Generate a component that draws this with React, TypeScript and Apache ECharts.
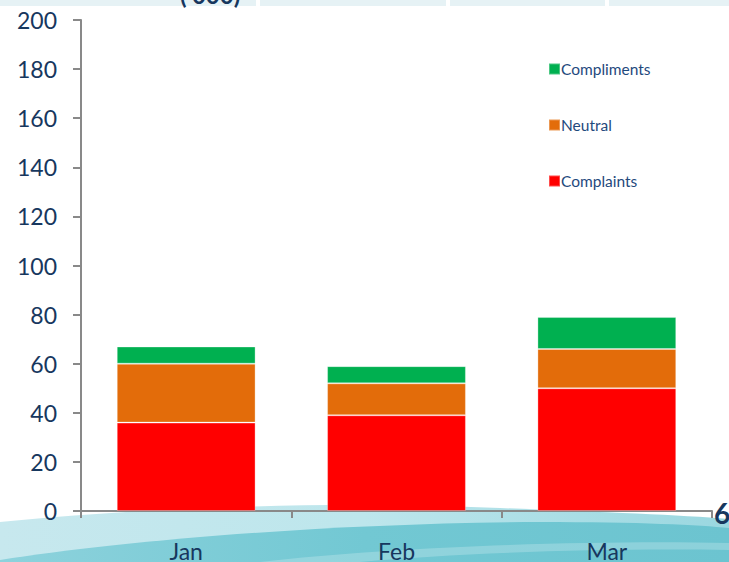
import React, { useEffect, useRef } from "react";
import * as echarts from "echarts";

const categories = ["Jan", "Feb", "Mar"];
const complaints = [36, 39, 50];
const neutral = [24, 13, 16];
const compliments = [7, 7, 13];
const yTicks = { min: 0, max: 200, interval: 20 };

const FONT = "Lato, 'Open Sans', sans-serif";
const NAVY = "#17375E";

echarts.graphic.registerShape(
  "waveLight",
  echarts.graphic.extendPath(
    "M0,522 C150,507 330,501 500,508 C600,512 680,515 729,519 L729,562 L0,562 Z",
    {}
  )
);
echarts.graphic.registerShape(
  "waveDark",
  echarts.graphic.extendPath(
    "M0,560 C120,541 330,523 540,522 C640,522 700,525 729,528 L729,562 L0,562 Z",
    {}
  )
);
echarts.graphic.registerShape(
  "waveStreak",
  echarts.graphic.extendPath(
    "M260,562 C400,546 600,540 729,543 L729,550 C600,548 460,553 360,562 Z",
    {}
  )
);

export default function App() {
  const ref = useRef<HTMLDivElement>(null);
  useEffect(() => {
    if (!ref.current) return;
    const chart = echarts.init(ref.current, undefined, { renderer: "svg" });
    chart.setOption({
      animation: false,
      backgroundColor: "#ffffff",
      grid: { left: 81, right: 17, top: 20, bottom: 48 },
      legend: {
        orient: "vertical",
        left: 543,
        top: 56,
        itemWidth: 11,
        itemHeight: 11,
        itemGap: 40,
        icon: "rect",
        data: ["Compliments", "Neutral", "Complaints"],
        textStyle: { color: "#1F497D", fontSize: 15.5, fontFamily: FONT, padding: [0, 0, 0, -4] },
      },
      xAxis: {
        type: "category",
        data: categories,
        axisLine: { lineStyle: { color: "#898989", width: 2 } },
        axisTick: { show: true, length: 7, lineStyle: { color: "#898989", width: 2 } },
        axisLabel: { color: NAVY, fontSize: 23, fontFamily: FONT, margin: 28 },
      },
      yAxis: {
        type: "value",
        min: yTicks.min,
        max: yTicks.max,
        interval: yTicks.interval,
        splitLine: { show: false },
        axisLine: { show: true, lineStyle: { color: "#898989", width: 2 } },
        axisTick: { show: true, length: 8, lineStyle: { color: "#898989", width: 2 } },
        axisLabel: { color: NAVY, fontSize: 23, fontFamily: FONT, margin: 24 },
      },
      graphic: [
        { type: "rect", z: -10, shape: { x: 0, y: 0, width: 256, height: 6 }, style: { fill: "#E6F2F5" } },
        { type: "rect", z: -10, shape: { x: 260, y: 0, width: 186, height: 6 }, style: { fill: "#E6F2F5" } },
        { type: "rect", z: -10, shape: { x: 450, y: 0, width: 155, height: 6 }, style: { fill: "#E6F2F5" } },
        { type: "rect", z: -10, shape: { x: 609, y: 0, width: 120, height: 6 }, style: { fill: "#E6F2F5" } },
        {
          type: "text",
          z: -5,
          x: 180,
          y: 6,
          style: { text: "(’000)", fontSize: 24, fontWeight: "bold", fontFamily: FONT, fill: NAVY, verticalAlign: "bottom" },
        },
        {
          type: "waveLight",
          z: -10,
          style: {
            fill: new echarts.graphic.LinearGradient(0, 0, 1, 0, [
              { offset: 0, color: "#C7E8EE" },
              { offset: 0.5, color: "#BDE6EC" },
              { offset: 1, color: "#9AD7E0" },
            ]),
          },
        },
        {
          type: "waveDark",
          z: -9,
          style: {
            fill: new echarts.graphic.LinearGradient(0, 0, 1, 0, [
              { offset: 0, color: "#8DD2DC" },
              { offset: 0.5, color: "#72C8D3" },
              { offset: 1, color: "#6CC4D0" },
            ]),
          },
        },
        { type: "waveStreak", z: -8, style: { fill: "rgba(255,255,255,0.22)" } },
        {
          type: "text",
          z: 10,
          x: 714,
          y: 513,
          style: { text: "6", fontSize: 28, fontWeight: "bold", fontFamily: FONT, fill: NAVY, verticalAlign: "middle" },
        },
      ],
      series: [
        {
          name: "Complaints",
          type: "bar",
          stack: "total",
          barWidth: "66%",
          data: complaints,
          itemStyle: { color: "#FF0000", borderColor: "rgba(255,255,255,0.3)", borderWidth: 1 },
        },
        {
          name: "Neutral",
          type: "bar",
          stack: "total",
          data: neutral,
          itemStyle: { color: "#E36C0A", borderColor: "rgba(255,255,255,0.3)", borderWidth: 1 },
        },
        {
          name: "Compliments",
          type: "bar",
          stack: "total",
          data: compliments,
          itemStyle: { color: "#00B050", borderColor: "rgba(255,255,255,0.3)", borderWidth: 1 },
        },
      ],
    });
    return () => chart.dispose();
  }, []);
  return (
    <div
      ref={ref}
      style={{ position: "absolute", left: 0, top: 0, width: 729, height: 562 }}
    />
  );
}
